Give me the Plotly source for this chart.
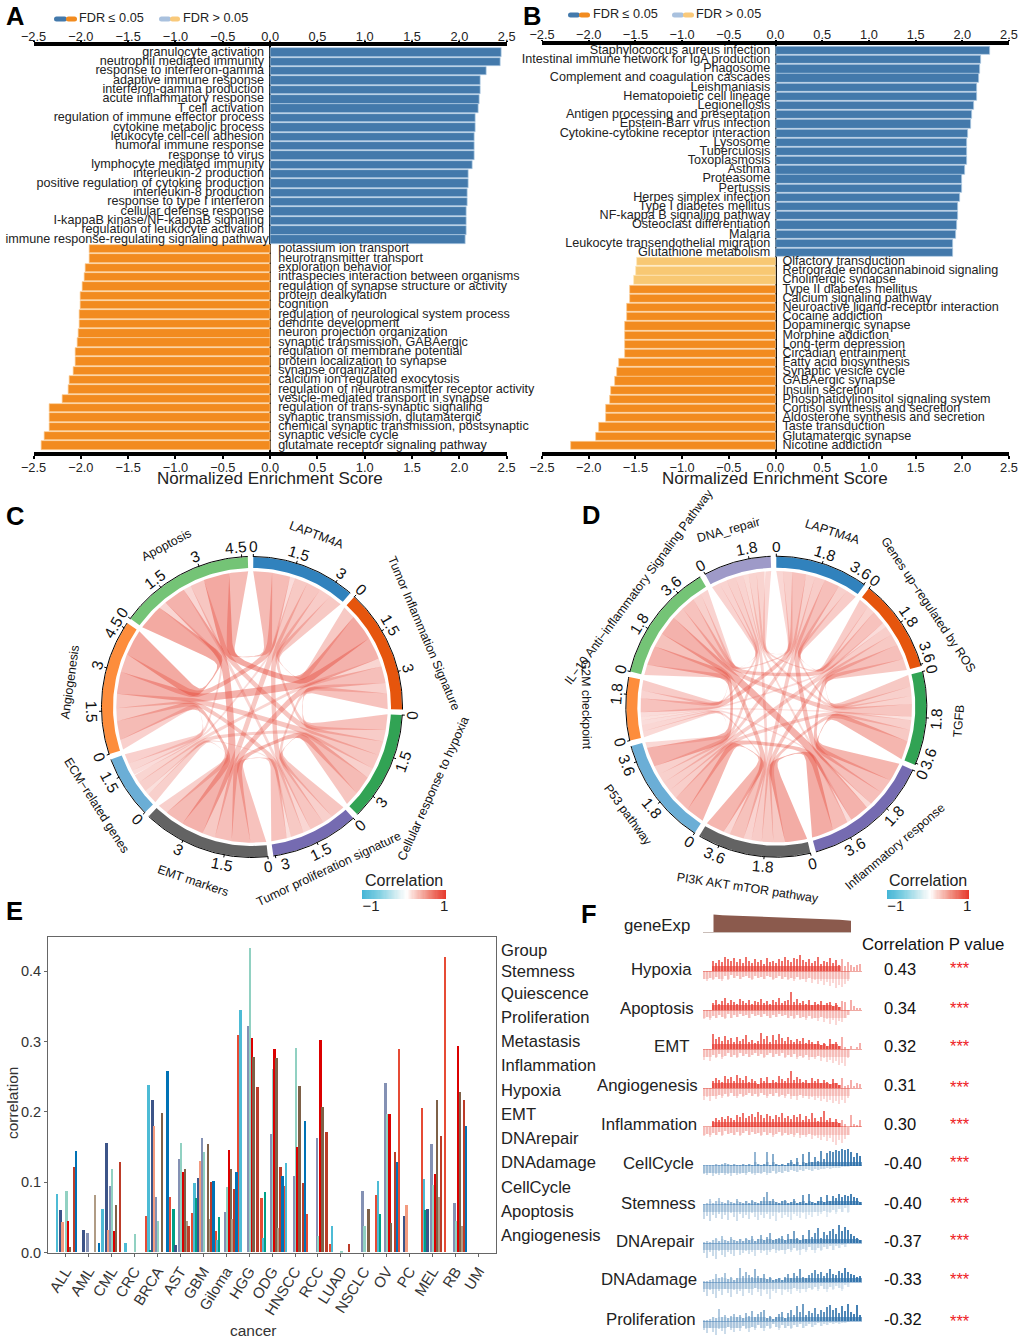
import numpy as np
import plotly.graph_objects as go

W, H = 1020, 1341
FONT = "Liberation Sans"

# ---------- Panel A ----------
a_up_terms = ["granulocyte activation","neutrophil mediated immunity","response to interferon-gamma","adaptive immune response","interferon-gamma production","acute inflammatory response","T cell activation","regulation of immune effector process","cytokine metabolic process","leukocyte cell-cell adhesion","humoral immune response","response to virus","lymphocyte mediated immunity","interleukin-2 production","positive regulation of cytokine production","interleukin-8 production","response to type I interferon","cellular defense response","I-kappaB kinase/NF-kappaB signaling","regulation of leukocyte activation","immune response-regulating signaling pathway"]
a_up_nes = [2.446,2.43,2.29,2.225,2.22,2.21,2.2,2.175,2.17,2.16,2.155,2.155,2.14,2.095,2.095,2.09,2.085,2.08,2.08,2.08,2.065]
a_dn_terms = ["potassium ion transport","neurotransmitter transport","exploration behavior","intraspecies interaction between organisms","regulation of synapse structure or activity","protein dealkylation","cognition","regulation of neurological system process","dendrite development","neuron projection organization","synaptic transmission, GABAergic","regulation of membrane potential","protein localization to synapse","synapse organization","calcium ion regulated exocytosis","regulation of neurotransmitter receptor activity","vesicle-mediated transport in synapse","regulation of trans-synaptic signaling","synaptic transmission, glutamatergic","chemical synaptic transmission, postsynaptic","synaptic vesicle cycle","glutamate receptor signaling pathway"]
a_dn_nes = [-1.91,-1.91,-1.947,-1.96,-1.985,-2.0,-2.0,-2.01,-2.015,-2.02,-2.03,-2.055,-2.06,-2.08,-2.12,-2.13,-2.19,-2.33,-2.335,-2.335,-2.38,-2.42]

# ---------- Panel B ----------
b_up_terms = ["Staphylococcus aureus infection","Intestinal immune network for IgA production","Phagosome","Complement and coagulation cascades","Leishmaniasis","Hematopoietic cell lineage","Legionellosis","Antigen processing and presentation","Epstein-Barr virus infection","Cytokine-cytokine receptor interaction","Lysosome","Tuberculosis","Toxoplasmosis","Asthma","Proteasome","Pertussis","Herpes simplex infection","Type I diabetes mellitus","NF-kappa B signaling pathway","Osteoclast differentiation","Malaria","Leukocyte transendothelial migration","Glutathione metabolism"]
b_up_nes = [2.30,2.196,2.186,2.182,2.16,2.154,2.12,2.10,2.09,2.057,2.054,2.046,2.046,2.025,2.0,2.0,1.98,1.957,1.95,1.943,1.93,1.90,1.90]
b_dn_terms = ["Olfactory transduction","Retrograde endocannabinoid signaling","Cholinergic synapse","Type II diabetes mellitus","Calcium signaling pathway","Neuroactive ligand-receptor interaction","Cocaine addiction","Dopaminergic synapse","Morphine addiction","Long-term depression","Circadian entrainment","Fatty acid biosynthesis","Synaptic vesicle cycle","GABAergic synapse","Insulin secretion","Phosphatidylinositol signaling system","Cortisol synthesis and secretion","Aldosterone synthesis and secretion","Taste transduction","Glutamatergic synapse","Nicotine addiction"]
b_dn_nes = [-1.48,-1.495,-1.51,-1.56,-1.56,-1.585,-1.587,-1.61,-1.61,-1.615,-1.615,-1.68,-1.70,-1.72,-1.765,-1.767,-1.81,-1.81,-1.895,-1.92,-2.19]
b_dn_nonsig = 3
nes_ticks = [-2.5,-2.0,-1.5,-1.0,-0.5,0.0,0.5,1.0,1.5,2.0,2.5]

# ---------- Panel C ----------
c_sectors = ["LAPTM4A","Tumor Inflammation Signature","Cellular response to hypoxia","Tumor proliferation signature","EMT markers","ECM\u2212related genes","Angiogenesis","Apoptosis"]
c_links = [
 [.50,.45,.55,.50,.20,.70,.72],
 [.60,.40,.65,.32,.85,1.0],
 [.55,.72,.40,.55,.55],
 [.60,.17,.50,.30],
 [.40,.72,.85],
 [.38,.30],
 [.99],
]
# ---------- Panel D ----------
d_sectors = ["LAPTM4A","Genes up\u2212regulated by ROS","TGFB","Inflammatory response","PI3K AKT mTOR pathway","P53 pathway","G2M checkpoint","IL\u221210 Anti\u2212inflammatory Signaling Pathway","DNA_repair"]
d_links = [
 [.45,.40,.65,.45,.40,.60,.40,.28],
 [.50,.65,.50,.42,.20,.60,.35],
 [.80,.50,.42,.15,.55,.35],
 [.95,.70,.20,.85,.24],
 [.80,.28,.62,.34],
 [.25,.85,.40],
 [.45,.34],
 [.34],
]
sector_colors = ["#3182bd","#e6550d","#31a354","#756bb1","#636363","#6baed6","#fd8d3c","#74c476"]
d_sector_colors = ["#3182bd","#e6550d","#31a354","#756bb1","#636363","#6baed6","#fd8d3c","#74c476","#9e9ac8"]

# ---------- Panel E ----------
cancers = ["ALL","AML","CML","CRC","BRCA","AST","GBM","Giloma","HGG","ODG","HNSCC","RCC","LUAD","NSCLC","OV","PC","MEL","RB","UM"]
angiogenesis=[0,0,0,0,.052,.079,.056,.031,.309,.077,.094,.055,.012,0,.082,.289,.205,.42,0]
apoptosis=[.083,0,.062,.014,.238,0,.098,.018,.344,.021,.127,0,.038,0,.102,0,.104,0,0]
cellcycle=[0,0,0,0,.004,.061,.077,.05,0,.086,0,0,0,0,.055,0,.06,0,0]
dnadamage=[.06,.032,.155,0,.216,.01,.106,0,0,0,0,0,0,0,0,.052,.061,0,0]
dnarepair=[.043,0,.032,0,.18,0,.13,0,0,0,0,0,0,0,0,.068,0,0,0]
emt=[0,.028,.094,0,.079,.132,.163,.057,.321,.168,.108,.162,0,.087,.24,0,.154,.07,0]
hypoxia=[.087,0,.118,.026,.045,.156,.143,.093,.433,.261,.29,.024,.002,.038,.196,0,.096,.045,0]
inflammation=[.044,0,.03,0,0,.114,0,.145,.305,.289,.15,.302,0,0,.196,0,.112,.293,0]
metastasis=[.008,0,.067,0,.198,.118,.154,.118,.278,.276,.237,.207,0,.062,.042,0,.217,.228,0]
proliferation=[0,.081,0,0,0,.045,.047,.047,0,.034,0,0,0,0,0,0,.078,.038,0]
quiescence=[.121,0,.129,0,0,.037,.1,.09,.235,.122,.099,.171,.012,0,.142,0,.166,.217,0]
stemness=[.144,.013,0,0,.257,0,.102,.114,0,.108,.187,0,0,0,.128,0,0,.179,0]
group_names = ["Angiogenesis","Apoptosis","CellCycle","DNAdamage","DNArepair","EMT","Hypoxia","Inflammation","Metastasis","Proliferation","Quiescence","Stemness"]
group_values = [angiogenesis,apoptosis,cellcycle,dnadamage,dnarepair,emt,hypoxia,inflammation,metastasis,proliferation,quiescence,stemness]
group_colors = ["#E64B35","#4DBBD5","#00A087","#3C5488","#F39B7F","#8491B4","#91D1C2","#DC0000","#7E6148","#B09C85","#BC3C29","#0072B5"]

# ---------- Panel F ----------
gene_exp = [17.5,17,16.9,16.8,16.7,16.6,16.5,16.4,16.3,16.2,16.1,16,15.9,15.8,15.7,15.6,15.5,15.4,15.3,15.2,15.1,15,14.9,14.8,14.7,14.6,14.5,14.4,14.3,14.2,14.1,14,13.9,13.8,13.7,13.6,13.4,13.3,13.2,13,12.8,12.6,12.3,12,11.8,11.5,11.1]
hypoxia_up=[0,0,0,10,8,11,9,14,12,10,13,9,12,8,14,10,8,12,9,11,7,13,9,10,8,12,10,14,11,9,13,12,16,11,9,12,8,10,14,7,10,9,13,8,11,6,12,5,9,6,4,6,7]
hypoxia_dn=[8,10,7,9,6,8,10,5,9,4,7,5,8,6,5,7,9,5,7,6,8,5,6,9,7,5,8,6,9,7,10,6,9,8,11,7,12,9,13,10,14,11,15,12,17,14,16,13,10,0,0,0,0]
apoptosis_up=[0,0,0,7,10,6,9,12,7,10,8,6,11,9,7,10,6,9,8,11,7,9,6,10,8,12,7,9,10,18,8,11,7,9,6,10,5,8,6,9,5,7,8,4,7,3,9,8,0,10,4,2,2]
apoptosis_dn=[9,7,10,6,8,5,7,9,4,8,5,7,4,6,5,8,4,6,5,7,4,6,8,5,7,4,6,5,8,6,9,5,8,7,10,6,9,8,11,7,12,9,14,10,15,11,12,8,5,0,0,0,0]
emt_up=[0,0,0,15,10,12,8,13,9,11,7,12,8,10,14,7,9,6,8,16,10,13,7,14,9,15,11,8,12,9,7,10,8,11,6,9,7,5,8,4,6,3,10,5,7,3,12,2,0,3,0,2,6]
emt_dn=[11,8,12,6,9,5,10,7,4,8,6,9,4,7,5,8,6,4,7,5,9,6,4,8,5,7,4,9,6,8,5,10,7,9,6,11,8,10,7,12,9,13,11,14,12,16,14,17,9,0,0,0,0]
angio_up=[0,0,0,7,10,8,6,12,9,11,7,13,10,8,12,6,9,7,4,10,7,11,5,8,6,12,9,7,10,17,8,11,9,6,8,5,10,7,9,5,8,6,4,9,5,3,10,2,3,8,2,5,4]
angio_dn=[12,9,13,8,11,7,10,6,9,5,8,10,6,9,7,5,8,6,9,5,7,10,6,8,5,9,7,10,6,11,8,12,7,10,8,11,9,12,10,13,11,14,12,15,13,16,12,15,10,0,0,0,0]
inflam_up=[0,0,0,6,9,7,10,8,11,9,7,12,10,14,9,11,13,10,15,12,9,13,11,8,12,10,14,9,11,8,12,10,13,7,11,8,14,9,6,10,16,7,9,5,8,4,7,3,0,12,3,2,7]
inflam_dn=[9,7,10,6,8,5,9,4,7,6,8,5,9,6,4,8,5,7,6,9,5,8,6,10,7,5,9,6,8,7,10,6,11,8,10,7,12,9,11,13,10,14,11,15,18,13,16,12,8,0,0,0,0]
cycle_up=[1,1,1,1,2,1,2,3,2,1,2,1,1,2,1,2,1,14,2,1,2,14,1,12,2,1,2,1,3,6,2,8,1,12,3,14,4,9,5,15,7,13,15,14,16,15,17,16,17,14,9,13,10]
cycle_dn=[8,9,7,10,8,9,7,9,8,10,7,9,8,7,9,6,8,9,7,8,6,9,7,5,8,6,7,5,6,4,5,6,4,5,3,4,5,3,4,3,3,2,3,2,2,2,1,1,1,0,0,0,0]
stem_up=[1,2,6,2,4,7,3,2,5,3,2,6,3,2,4,2,5,3,2,4,8,13,4,6,3,2,4,5,2,3,6,2,3,10,2,11,3,2,4,8,3,10,4,9,7,11,8,10,9,11,8,7,3]
stem_dn=[14,11,16,10,13,9,14,10,15,8,12,16,9,13,10,14,8,12,15,10,13,9,14,11,16,8,13,10,12,15,9,11,13,8,14,10,12,7,11,9,6,12,8,5,9,4,7,3,8,0,0,0,0]
repair_up=[1,2,1,3,5,2,7,3,2,6,3,2,4,2,5,3,7,2,4,8,3,6,10,3,4,5,7,3,9,4,12,5,3,8,4,13,6,10,15,5,11,8,12,14,9,18,12,16,13,9,7,5,3]
repair_dn=[10,15,9,13,16,8,12,14,9,11,13,7,12,10,8,11,9,13,7,10,8,12,9,6,10,8,7,11,6,9,5,8,12,6,9,4,7,10,5,8,4,6,3,7,3,5,2,4,0,0,0,0,0]
damage_up=[1,1,2,3,8,4,5,9,3,5,2,4,14,6,10,7,5,13,6,4,8,3,5,2,3,4,2,5,8,4,9,6,13,5,4,7,9,12,8,10,6,9,13,8,7,11,9,14,10,8,7,5,6]
damage_dn=[10,14,8,12,16,9,13,7,11,15,8,12,9,14,7,11,13,6,10,14,8,12,17,9,11,7,13,8,10,12,6,9,11,7,10,6,8,5,9,4,7,10,5,8,4,6,9,3,5,0,0,0,0]
prolif_up=[1,1,2,4,3,12,4,6,3,5,7,4,6,3,8,5,10,4,7,9,11,3,5,2,4,7,9,3,8,11,6,15,9,17,6,10,8,13,7,11,9,14,16,11,13,8,15,10,17,9,7,16,6]
prolif_dn=[9,12,7,11,14,8,10,13,6,9,11,7,10,5,8,11,6,9,4,7,10,5,8,3,6,9,4,7,5,8,4,6,3,7,5,3,6,4,2,5,3,4,2,3,2,3,2,2,1,0,0,0,0]
f_names = ["Hypoxia","Apoptosis","EMT","Angiogenesis","Inflammation","CellCycle","Stemness","DNArepair","DNAdamage","Proliferation"]
f_up = [hypoxia_up,apoptosis_up,emt_up,angio_up,inflam_up,cycle_up,stem_up,repair_up,damage_up,prolif_up]
f_dn = [hypoxia_dn,apoptosis_dn,emt_dn,angio_dn,inflam_dn,cycle_dn,stem_dn,repair_dn,damage_dn,prolif_dn]
f_corr = ["0.43","0.34","0.32","0.31","0.30","-0.40","-0.40","-0.37","-0.33","-0.32"]

# ---------- layout helpers ----------
fig = go.Figure()
lay = {}
ann = []
shapes = []
def fx(x): return x / W
def fy(y): return 1 - y / H
def T(x, y, text, size=12, anchor="center", angle=0, color="#222222", bold=False):
    ann.append(dict(x=fx(x), y=fy(y), xref="paper", yref="paper", text=f"<b>{text}</b>" if bold else text,
                    showarrow=False, xanchor=anchor, yanchor="middle", textangle=angle, borderpad=0,
                    font=dict(family=FONT, size=size, color=color)))
def pill(x0, x1, y, h, color):
    r = h / 2
    path = (f"M {x0+r} {y-r} L {x1-r} {y-r} Q {x1} {y-r} {x1} {y} Q {x1} {y+r} {x1-r} {y+r} "
            f"L {x0+r} {y+r} Q {x0} {y+r} {x0} {y} Q {x0} {y-r} {x0+r} {y-r} Z")
    shapes.append(dict(type="path", path=path, xref="x20", yref="y20", fillcolor=color, line=dict(width=0)))

lay["xaxis20"] = dict(domain=[0, 1], range=[0, W], visible=False, fixedrange=True)
lay["yaxis20"] = dict(domain=[0, 1], range=[H, 0], visible=False, fixedrange=True)
fig.add_trace(go.Scatter(x=[None], y=[None], xaxis="x20", yaxis="y20", showlegend=False, hoverinfo="skip"))

BLUE, BLUE_E = "#4379ab", "#adc8e2"
ORANGE, ORANGE_E = "#f28b1f", "#fbcb94"
LIGHT, LIGHT_E = "#f8c873", "#fde6ba"

def gsea(ax1, ax2, left, right, top, bottom, yr, up_terms, up, dn_terms, dn, dn_nonsig, gap_l, gap_r, top_off, lab_x=None):
    terms = up_terms + dn_terms
    vals = up + dn
    idx = list(range(len(terms)))
    colors = [BLUE]*len(up) + [LIGHT]*dn_nonsig + [ORANGE]*(len(dn)-dn_nonsig)
    edges = [BLUE_E]*len(up) + [LIGHT_E]*dn_nonsig + [ORANGE_E]*(len(dn)-dn_nonsig)
    xa, ya = f"x{ax1}", f"y{ax1}"
    fig.add_trace(go.Bar(y=idx, x=vals, orientation="h", width=0.9, offset=-0.45,
                         marker=dict(color=colors, line=dict(color=edges, width=0.7)),
                         xaxis=xa, yaxis=ya, hoverinfo="skip", showlegend=False))
    lx = [-gap_l]*len(up)
    if lab_x is not None:
        lx[-1] = lab_x
    fig.add_trace(go.Scatter(y=idx[:len(up)], x=lx, mode="text", text=up_terms, textposition="middle left",
                             textfont=dict(family=FONT, size=12.6, color="#222"), cliponaxis=False,
                             xaxis=xa, yaxis=ya, hoverinfo="skip", showlegend=False))
    fig.add_trace(go.Scatter(y=idx[len(up):], x=[gap_r]*len(dn), mode="text", text=dn_terms, textposition="middle right",
                             textfont=dict(family=FONT, size=12.6, color="#222"), cliponaxis=False,
                             xaxis=xa, yaxis=ya, hoverinfo="skip", showlegend=False))
    fig.add_trace(go.Scatter(x=[None], y=[None], xaxis=f"x{ax2}", yaxis=ya, showlegend=False, hoverinfo="skip"))
    common = dict(domain=[fx(left), fx(right)], range=[-2.5, 2.5], tickvals=nes_ticks, tickformat=".1f",
                  showline=True, linecolor="black", linewidth=4, ticks="outside", tickwidth=1.5,
                  tickcolor="black", tickfont=dict(family=FONT, size=12.8, color="#222"), showgrid=False, fixedrange=True)
    lay[f"xaxis{ax1}"] = dict(common, side="bottom", anchor=ya, zeroline=True, zerolinecolor="black", zerolinewidth=2,
                              ticklen=3, ticklabelstandoff=-2)
    lay[f"xaxis{ax2}"] = dict(common, side="top", anchor=ya, overlaying=xa, zeroline=False, ticklen=1, ticklabelstandoff=top_off)
    lay[f"yaxis{ax1}"] = dict(domain=[fy(bottom), fy(top)], range=yr, visible=False, fixedrange=True)

gsea(1, 2, 33.5, 506.7, 46, 452, [42.68, -0.694], a_up_terms, a_up_nes, a_dn_terms, a_dn_nes, 0, 0.063, 0.085, -5, lab_x=-0.015)
gsea(3, 4, 542, 1009, 44.7, 452, [43.7, -0.66], b_up_terms, b_up_nes, b_dn_terms, b_dn_nes, b_dn_nonsig, 0.055, 0.075, -4)
T(270, 478, "Normalized Enrichment Score", 17)
T(775, 478, "Normalized Enrichment Score", 17)
for x0, x1, x2, y, tx0 in [(54, 66, 77, 19, 78), (568, 579, 590, 15, 592)]:
    pill(x0, x1+1, y, 5, BLUE); pill(x1, x2, y, 5, ORANGE)
    T(tx0, y-1, "FDR \u2264 0.05", 12.7, "left")
for x0, x1, x2, y, tx0 in [(159, 170, 180, 19, 182), (672, 683, 694, 15, 695)]:
    pill(x0, x1+1, y, 5, "#a9c1de"); pill(x1, x2, y, 5, "#f9c97a")
    T(tx0, y-1, "FDR > 0.05", 12.7, "left")
for s, x, y in [("A",15,16),("B",532,16),("C",15,516),("D",591,515),("E",14,911),("F",589,914)]:
    T(x, y, s, 25.5, bold=True, color="#000")

# ---------- chord diagrams ----------
def chord(cx, cy, names, colors, tri, step, start, gap, label_offsets, label_turn):
    n = len(names)
    M = np.zeros((n, n))
    for i, row in enumerate(tri):
        for k, v in enumerate(row):
            M[i, i+1+k] = M[i+1+k, i] = v
    sizes = M.sum(axis=1)
    scale = (360 - n*gap) / sizes.sum()
    starts = []
    a = start
    for s in sizes:
        starts.append(a)
        a += s*scale + gap
    def P(th, r):
        t = np.radians(th)
        return np.array([cx + r*np.sin(t), cy - r*np.cos(t)]).T
    R_out, R_in, R_rib = 150, 139, 135.7
    seg = {}
    for i in range(n):
        pos = starts[i]
        for j in sorted([j for j in range(n) if j != i], key=lambda j: -((j-i) % n)):
            seg[(i, j)] = (pos, pos + M[i, j]*scale)
            pos += M[i, j]*scale
    deg = 9
    rep = 4
    B = np.array([1,9,36,84,126,126,84,36,9,1], float)
    tt = np.linspace(0, 1, 70)
    basis = np.array([B[k]*tt**k*(1-tt)**(deg-k) for k in range(deg+1)])
    mid = [starts[i] + sizes[i]*scale/2 for i in range(n)]
    KS, KR = 0.04, 0.30
    def ctrl_pt(th, i, j):
        s0, s1 = seg[(i, j)]
        p = P(th, R_rib)
        return P(mid[i], 0.40*R_rib) + KS*(p - P(mid[i], R_rib)) + KR*(p - P((s0+s1)/2, R_rib))
    def edge(th_a, i, th_b, j):
        c1 = ctrl_pt(th_a, i, j)
        c2 = ctrl_pt(th_b, j, i)
        ctrl = [P(th_a, R_rib)] + [c1]*rep + [c2]*rep + [P(th_b, R_rib)]
        return sum(basis[k][:, None]*ctrl[k] for k in range(deg+1))
    for i in range(n):
        for j in range(i+1, n):
            a0, a1 = seg[(i, j)]
            b0, b1 = seg[(j, i)]
            v = M[i, j]
            poly = np.vstack([P(np.linspace(a0, a1, 10), R_rib), edge(a1, i, b0, j),
                              P(np.linspace(b0, b1, 10), R_rib), edge(b1, j, a0, i)])
            fig.add_trace(go.Scatter(x=poly[:, 0], y=poly[:, 1], mode="lines", fill="toself",
                                     line=dict(width=0), fillcolor=f"rgba(230,75,60,{0.12+0.36*v:.3f})",
                                     xaxis="x20", yaxis="y20", hoverinfo="skip", showlegend=False))
    def rot(th):
        th = th % 360
        if 90 < th < 270:
            return th - 180
        return th if th <= 90 else th - 360
    for i in range(n):
        th0, th1 = starts[i], starts[i] + sizes[i]*scale
        arc = np.linspace(th0, th1, 50)
        poly = np.vstack([P(arc, R_out), P(arc[::-1], R_in)])
        fig.add_trace(go.Scatter(x=poly[:, 0], y=poly[:, 1], mode="lines", fill="toself", line=dict(width=0),
                                 fillcolor=colors[i], xaxis="x20", yaxis="y20", hoverinfo="skip", showlegend=False))
        ol = P(arc, R_out + 0.5)
        fig.add_trace(go.Scatter(x=ol[:, 0], y=ol[:, 1], mode="lines", line=dict(width=1, color="black"),
                                 xaxis="x20", yaxis="y20", hoverinfo="skip", showlegend=False))
        ticks = np.arange(0, sizes[i] + 1e-6, step)
        xs, ys = [], []
        for t in ticks:
            th = th0 + t*scale
            p, q = P(th, R_out), P(th, R_out + 3)
            xs += [p[0], q[0], None]; ys += [p[1], q[1], None]
            lab_th = th - max(0.0, 4.0 - (th1 - th))
            c = P(lab_th, R_out + 10.5)
            lab = f"{t:.1f}".rstrip("0").rstrip(".")
            T(c[0], c[1], lab, 15.5, angle=rot(lab_th), color="#111")
        fig.add_trace(go.Scatter(x=xs, y=ys, mode="lines", line=dict(width=1, color="black"),
                                 xaxis="x20", yaxis="y20", hoverinfo="skip", showlegend=False))
        c = P(mid[i] + label_turn[i], 183.5 + label_offsets[i])
        T(c[0], c[1], names[i], 12.4, angle=rot(mid[i]), color="#111")

chord(252, 707, c_sectors, sector_colors, c_links, 1.5, 0.5, 2.1, [0, 4, 15, -4, 0, 0, 0, 0], [0]*8)
chord(776.3, 706.7, d_sectors, d_sector_colors, d_links, 1.8, 0, 2.15, [0, 0, 0, 0, 0, 0, 7, -1, 0], [0, 0, 0, 0, 0, 0, 1.5, 4.5, 0])

# colour strips of the chord panels
corr_scale = [[0, "#45b5d6"], [0.2, "#7fcfe2"], [0.45, "#e4f3f5"], [0.53, "#ffffff"], [0.6, "#fbdcd6"], [0.8, "#f0887a"], [1, "#e6392c"]]
strip = np.linspace(-1.25, 1.05, 70)
for k, (x0, x1) in enumerate([(362, 446), (887, 969)]):
    ax = 30 + k
    fig.add_trace(go.Heatmap(x=strip, y=[0], z=[strip], zmin=-1.25, zmax=1.05, colorscale=corr_scale, showscale=False,
                             xaxis=f"x{ax}", yaxis=f"y{ax}", hoverinfo="skip"))
    lay[f"xaxis{ax}"] = dict(domain=[fx(x0), fx(x1)], anchor=f"y{ax}", range=[-1.25, 1.05], tickvals=[-1, 1], ticktext=["\u22121", "1"],
                             ticks="", showline=False, showgrid=False, zeroline=False, ticklabelstandoff=-4,
                             tickfont=dict(family=FONT, size=15, color="#222"), fixedrange=True)
    lay[f"yaxis{ax}"] = dict(domain=[fy(899), fy(890)], anchor=f"x{ax}", visible=False, fixedrange=True)
    T((x0+x1)/2, 880, "Correlation", 16)

# ---------- Panel E ----------
for name, vals, col in zip(group_names, group_values, group_colors):
    fig.add_trace(go.Bar(x=cancers, y=vals, name=name, marker=dict(color=col, line=dict(width=0)),
                         xaxis="x5", yaxis="y5", hoverinfo="skip", showlegend=False))
lay["xaxis5"] = dict(domain=[fx(48), fx(495.7)], anchor="y5", type="category", categoryorder="array", categoryarray=cancers,
                     range=[-0.77, 18.75], showline=True, linecolor="#666", linewidth=1, mirror=True, ticks="outside", ticklen=3,
                     tickcolor="#666", tickangle=-58, tickfont=dict(family=FONT, size=15, color="#333"), showgrid=False, fixedrange=True)
lay["yaxis5"] = dict(domain=[fy(1252.7), fy(937.3)], anchor="x5", range=[0, 0.448], tickvals=[0, .1, .2, .3, .4], tickformat=".1f",
                     showline=True, linecolor="#666", linewidth=1, mirror=True, ticks="outside", ticklen=3, tickcolor="#666",
                     tickfont=dict(family=FONT, size=14.5, color="#333"), showgrid=False, zeroline=False, fixedrange=True)
T(253, 1330, "cancer", 15.5, color="#333")
T(12, 1103, "correlation", 15.5, angle=-90, color="#333")
T(500, 950, "Group", 16.6, "left")
e_legend_y = [971, 993, 1017, 1041, 1065, 1090, 1114, 1138, 1162, 1187, 1211, 1235]
for nm, y in zip(group_names[::-1], e_legend_y):
    T(500, y, nm, 16.6, "left")

# ---------- Panel F ----------
f_base = [971.3, 1010, 1049, 1088.3, 1126.7, 1165.7, 1204.7, 1243.3, 1282.3, 1321]
f_label_right = [693, 695, 690, 699, 698, 695, 697, 696, 698, 697]
f_val_y = [969, 1008, 1046, 1085, 1124, 1163, 1203, 1241, 1279, 1319]
f_star_y = [968, 1008, 1046, 1087, 1124, 1162, 1203, 1240, 1279, 1321]
F_L, F_R = 703, 862
gene_x = [3 + i for i in range(len(gene_exp))] + [3 + len(gene_exp) - 1]
fig.add_trace(go.Scatter(x=gene_x, y=gene_exp + [0], mode="lines", fill="tozeroy", fillcolor="#8b5a4d", line=dict(width=0),
                         xaxis="x6", yaxis="y6", hoverinfo="skip", showlegend=False))
axis_off = dict(showticklabels=False, ticks="", showgrid=False, showline=False, fixedrange=True)
lay["xaxis6"] = dict(axis_off, domain=[fx(F_L), fx(851)], anchor="y6", range=[-0.5, 48.83], zeroline=False)
lay["yaxis6"] = dict(axis_off, domain=[fy(932 + 20), fy(932 - 20)], anchor="x6", range=[-20, 20], zeroline=True,
                     zerolinecolor="#c9bdb8", zerolinewidth=1)
T(691, 925, "geneExp", 16.8, "right")
for r in range(10):
    ax = 7 + r
    red = r < 5
    col = "#e8352b" if red else "#2a6ea8"
    up, dn = f_up[r], f_dn[r]
    xs = list(range(len(up)))
    if red:
        up_op = [0.7 if i < 46 else 0.4 for i in xs]
        mass_op = [0.55 if i < 46 else 0.0 for i in xs]
        dn_op = [0.2] * len(dn)
        dmass_op = [0.16] * len(dn)
        cap = 5
    else:
        up_op = [0.3 + 0.6 * i / len(up) for i in xs]
        mass_op = [0.05 + 0.6 * i / len(up) for i in xs]
        dn_op = [0.26 - 0.16 * i / len(dn) for i in range(len(dn))]
        dmass_op = [0.24 - 0.16 * i / len(dn) for i in range(len(dn))]
        cap = 4
    for vals, op, sgn, wd in [(np.minimum(up, cap), mass_op, 1, 0.98), (np.minimum(dn, cap + 3), dmass_op, -1, 0.98),
                              (up, up_op, 1, 0.36), (dn, dn_op, -1, 0.36)]:
        vals = [sgn*float(v) for v in vals]
        fig.add_trace(go.Bar(x=list(range(len(vals))), y=vals, width=wd, offset=-wd/2,
                             marker=dict(color=col, opacity=op, line=dict(width=0)),
                             xaxis=f"x{ax}", yaxis=f"y{ax}", hoverinfo="skip", showlegend=False))
    lay[f"xaxis{ax}"] = dict(axis_off, domain=[fx(F_L), fx(F_R)], anchor=f"y{ax}", range=[-0.5, 52.5], zeroline=False)
    lay[f"yaxis{ax}"] = dict(axis_off, domain=[fy(f_base[r] + 20), fy(f_base[r] - 20)], anchor=f"x{ax}", range=[-20, 20],
                             zeroline=True, zerolinecolor="#efa9a2" if red else "#a9c4de", zerolinewidth=1)
    T(f_label_right[r], f_val_y[r], f_names[r], 16.8, "right")
    T(882.5, f_val_y[r], f_corr[r], 16.5, "left", color="#111")
    T(960, f_star_y[r], "***", 16.5, color="#ee1c25")
T(933, 944, "Correlation P value", 16.8, color="#111")

for key in lay:
    lay[key]["automargin"] = False
fig.update_layout(template="none", width=W, height=H, autosize=False, margin=dict(l=0, r=0, t=0, b=0, pad=0), paper_bgcolor="white",
                  plot_bgcolor="rgba(0,0,0,0)", showlegend=False, barmode="group", bargap=0, bargroupgap=0,
                  annotations=ann, shapes=shapes, font=dict(family=FONT), **lay)
fig.write_html("out.html", config=dict(displayModeBar=False),
               post_script="document.body.style.margin='0';document.body.style.overflow='hidden';")
